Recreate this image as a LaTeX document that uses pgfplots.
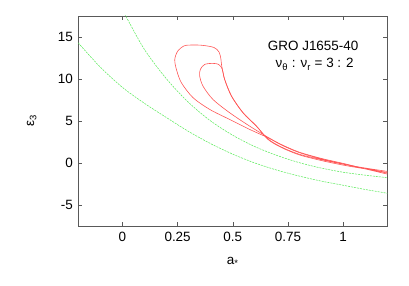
\documentclass[border=0pt]{standalone}
\usepackage{fontspec}
\setmainfont{Liberation Sans}
\usepackage{pgfplots}
\pgfplotsset{compat=1.18}
\definecolor{gl}{RGB}{95,235,95}
\definecolor{rl}{RGB}{255,85,85}
\begin{document}
\begin{tikzpicture}
\path[use as bounding box] (-78.3bp,-60bp) rectangle (330.7bp,226bp);
\begin{axis}[
  at={(0,0)}, anchor=south west,
  scale only axis, width=309bp, height=210bp,
  xmin=-0.2, xmax=1.2, ymin=-7.5, ymax=17.5,
  xtick={0,0.25,0.5,0.75,1}, xticklabels={0,0.25,0.5,0.75,1},
  ytick={-5,0,5,10,15}, yticklabels={-5,0,5,10,15},
  tick align=inside, major tick length=4bp,
  axis line style={draw=black!65, line width=0.8pt},
  tick style={black!65, line width=0.6pt},
  ticklabel style={font=\fontsize{13.5}{16}\selectfont},
  xticklabel style={yshift=-3bp},
  yticklabel style={xshift=-2bp},
  label style={font=\fontsize{13.5}{16}\selectfont},
  xlabel={a\textsubscript{*}},
  ylabel={ε\textsubscript{3}},
  xlabel style={at={(axis description cs:0.5,-0.171)}, anchor=center},
  ylabel style={at={(axis description cs:-0.151,0.5)}, anchor=center, rotate=0},
  clip=true,
]
% green curves
\addplot[gl, line width=0.55pt, dash pattern=on 2bp off 1bp, smooth] coordinates {
 (-0.01,18.7) (0.015,17.5) (0.1,13.5) (0.2,10.0) (0.3,7.2) (0.4,5.0) (0.5,3.3) (0.6,1.95) (0.7,0.9) (0.8,0.05) (0.9,-0.6) (1.0,-1.1) (1.1,-1.45) (1.2,-1.75)};
\addplot[gl, line width=0.55pt, dash pattern=on 2bp off 1bp, smooth] coordinates {
 (-0.2,14.3) (-0.1,11.4) (0.0,9.0) (0.1,7.1) (0.2,5.4) (0.3,3.75) (0.4,2.3) (0.5,1.05) (0.6,0.0) (0.7,-0.85) (0.8,-1.55) (0.9,-2.15) (1.0,-2.65) (1.1,-3.15) (1.2,-3.6)};
% red outer loop
\addplot[rl, line width=0.6pt, smooth, tension=0.5] coordinates {
 (1.2,-1.0) (1.1,-0.6) (1.0,-0.15) (0.9,0.4) (0.8,1.05) (0.72,1.9) (0.66,2.85) (0.607,4.38) (0.546,5.98) (0.494,7.96) (0.463,9.95) (0.449,11.7) (0.446,12.4) (0.438,13.2) (0.415,13.75) (0.365,14.0) (0.32,14.05) (0.28,13.95) (0.25,13.3) (0.237,12.3) (0.245,11.1) (0.267,9.56) (0.32,7.77) (0.396,6.37) (0.486,5.18) (0.577,3.99) (0.66,3.0) (0.72,2.15) (0.8,1.25) (0.9,0.5) (1.0,-0.1) (1.1,-0.65) (1.2,-1.2)};
% red inner loop
\addplot[rl, line width=0.6pt, smooth, tension=0.5] coordinates {
 (1.2,-1.12) (1.1,-0.7) (1.0,-0.25) (0.9,0.3) (0.8,0.98) (0.72,1.85) (0.66,2.8) (0.607,4.4) (0.546,6.0) (0.494,7.98) (0.463,9.97) (0.455,10.9) (0.447,11.45) (0.435,11.75) (0.41,11.86) (0.373,11.74) (0.353,11.15) (0.35,10.35) (0.365,9.15) (0.41,7.57) (0.486,5.98) (0.577,4.38) (0.66,3.05) (0.72,2.2) (0.8,1.3) (0.9,0.55) (1.0,-0.05) (1.1,-0.7) (1.2,-1.32)};
\node[font=\fontsize{13.5}{16}\selectfont] at (axis cs:0.864,13.93) {GRO J1655-40};
\node[font=\fontsize{13.5}{16}\selectfont] at (axis cs:0.871,11.74) {ν\textsubscript{θ} : ν\textsubscript{r} = 3 : 2};
\end{axis}
\end{tikzpicture}
\end{document}
